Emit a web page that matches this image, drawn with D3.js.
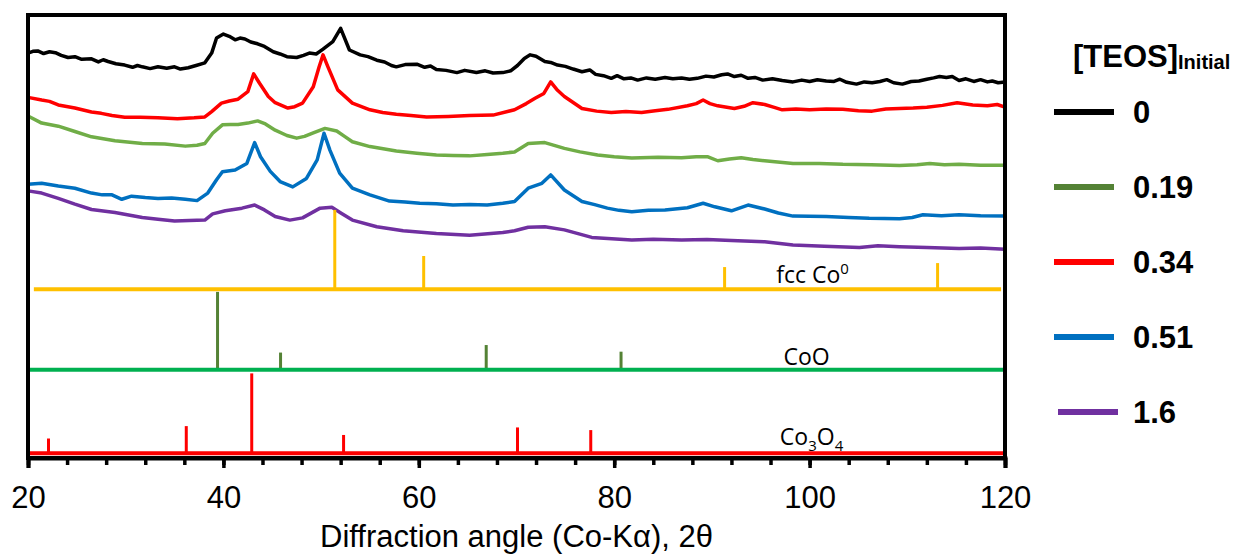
<!DOCTYPE html>
<html>
<head>
<meta charset="utf-8">
<script src="https://cdn.jsdelivr.net/npm/d3@7"></script>
<style>
  html, body { margin: 0; padding: 0; background: #fff; }
  svg { display: block; }
</style>
</head>
<body>
<div id="chart"></div>
<script>
// XRD patterns, [2theta, intensity a.u. (offset stacked)]
const teos0 = [[20,91.4],[20.5,91.8],[21,91.9],[21.6,91.3],[22.2,91.7],[22.8,91.5],[23.4,90.9],[24.1,90.4],[24.8,90.6],[25.5,90.0],[26.5,90.1],[27.2,89.4],[27.7,89.9],[28.2,89.5],[29,89.0],[29.9,88.7],[30.7,88.2],[31.2,88.6],[31.7,88.3],[32.5,87.9],[33.3,88.3],[34.2,88.0],[35.0,88.3],[35.6,87.8],[36.4,88.1],[37.2,88.6],[38.1,89.2],[38.8,91.4],[39.3,94.8],[40.0,95.7],[40.6,95.2],[41.2,94.4],[41.7,94.8],[42.2,94.6],[42.8,93.9],[43.5,93.5],[44.2,92.9],[45.1,91.7],[45.8,91.2],[46.5,90.6],[47.5,90.4],[48.2,90.9],[48.8,91.4],[49.5,91.2],[50.2,92.3],[51.2,94.0],[52.0,97.0],[52.9,92.1],[54.0,91.0],[54.8,90.6],[55.7,89.8],[56.5,89.4],[57.2,88.6],[57.7,88.3],[58.6,88.8],[59.8,88.9],[60.6,88.2],[61.2,88.5],[61.8,87.7],[62.8,87.5],[63.9,87.0],[64.7,87.5],[65.9,87.0],[66.8,87.4],[67.6,86.9],[68.6,87.0],[69.4,87.4],[70.1,88.6],[70.8,90.2],[71.4,91.0],[72.0,90.7],[72.9,89.5],[73.5,89.3],[74.2,88.7],[75,88.4],[75.8,87.8],[76.7,87.2],[77.5,87.6],[78.1,86.6],[78.9,86.3],[79.7,85.7],[80.3,86.3],[81,85.6],[81.7,85.8],[82.4,85.3],[83.3,85.8],[84.2,85.5],[85.2,85.9],[86,85.6],[86.9,85.8],[87.7,85.5],[88.5,85.7],[89.4,86.2],[90.2,86.0],[91.0,86.5],[91.6,86.7],[92.3,86.1],[93,86.4],[93.7,85.7],[94.4,85.9],[95.2,85.3],[96.2,85.6],[97.2,85.2],[98.3,84.9],[99.2,85.3],[100,85.0],[100.8,85.4],[101.7,85.1],[102.5,85.0],[103.1,85.5],[103.8,84.8],[104.8,84.4],[105.6,84.9],[106.4,84.7],[107.2,85.0],[107.9,85.4],[108.6,84.7],[109.5,84.4],[110.4,85.0],[111.2,85.1],[112,85.5],[112.7,85.8],[113.3,86.1],[114,85.9],[114.6,86.1],[115.3,85.2],[116,85.6],[116.8,85.0],[117.5,85.4],[118.2,84.9],[118.7,85.1],[119.3,84.7],[120,84.9]];

const teos034 = [[20,81.4],[21.4,80.8],[22.2,80.5],[23.1,79.7],[24.8,79.0],[26.5,78.1],[27.5,77.8],[28.6,77.3],[29.9,76.9],[31.5,76.9],[33.3,76.8],[35.3,76.6],[37,76.8],[38.1,77.0],[38.8,78.2],[39.8,80.1],[40.6,80.6],[41.5,81.0],[42.5,82.7],[43.1,86.7],[43.7,84.6],[44.6,81.6],[45.3,80.2],[46.6,79.0],[47.3,79.3],[48.1,80.1],[49.2,83.8],[49.8,88.3],[50.2,91.0],[50.7,88.3],[51.7,83.1],[53.2,80.1],[55.0,78.6],[56.3,78.0],[57.7,77.6],[59.2,77.3],[60.8,77.0],[63,77.1],[65.2,77.3],[67.6,77.4],[69.8,78.6],[71.0,80.0],[71.9,81.2],[72.8,82.3],[73.5,84.9],[74.2,83.0],[74.9,81.6],[76.7,78.9],[78.2,78.3],[79.7,78.0],[81.2,78.2],[82.8,78.0],[84.2,78.4],[85.5,78.7],[87.5,79.5],[88.4,80.0],[89.1,80.8],[89.8,80.0],[90.6,79.5],[92.3,78.9],[93.3,79.4],[94.2,80.2],[95.4,79.8],[96.3,79.2],[97.2,78.6],[98.6,78.8],[100.0,78.6],[101.7,78.8],[103.4,78.7],[105,78.4],[106.4,78.3],[107.8,78.8],[109.2,78.9],[110.6,79.0],[112.0,79.2],[113.6,79.6],[115.1,80.2],[116.7,79.7],[118.2,79.5],[119.2,79.8],[120,79.2]];

const teos019 = [[20,77.2],[21.4,75.6],[23.1,74.9],[24.8,73.7],[26.5,72.5],[28.9,71.6],[31.7,71.0],[34.0,70.9],[36.1,70.4],[37.3,70.6],[38.1,71.0],[38.9,73.3],[39.9,75.2],[40.7,75.3],[41.5,75.3],[42.5,75.6],[43.5,76.1],[44.3,75.4],[45.3,74.0],[46.5,72.8],[47.5,72.2],[48.3,72.6],[49.2,73.4],[50.4,74.4],[51.6,73.8],[52.4,72.6],[53.2,71.4],[55.0,70.3],[57.7,69.3],[59.8,68.8],[61.8,68.4],[63.5,68.3],[65.2,68.2],[67,68.5],[68.6,68.8],[69.8,69.1],[71.2,71.0],[72.9,71.2],[74.9,69.9],[76.5,69.1],[78.3,68.4],[80,68.0],[81.8,67.7],[84.5,67.9],[86.9,67.8],[88.4,68.0],[89.6,68.0],[90.6,67.1],[91.8,67.5],[93.0,67.8],[94.2,67.4],[95.4,67.1],[98.3,66.5],[101,66.5],[103.4,66.3],[106.3,66.2],[109.2,66.0],[111,66.2],[112.3,66.5],[113.8,66.2],[115.3,66.3],[117.5,66.1],[120,66.1]];

const teos051 = [[20,61.8],[21.4,62.0],[23.1,61.4],[24.8,60.9],[26.5,59.8],[27.6,59.4],[28.6,59.4],[29.6,58.4],[30.6,59.1],[32,58.8],[33.3,58.6],[34.7,58.7],[36.1,58.4],[37.3,58.1],[38.4,59.8],[39.3,62.8],[39.9,64.6],[41.2,65.0],[42.4,66.5],[43.2,71.2],[43.8,68.0],[44.8,64.7],[45.8,62.4],[47.1,61.2],[48.5,63.1],[49.6,67.3],[50.3,73.3],[50.9,69.5],[51.9,64.3],[53.2,60.9],[55.0,59.4],[57.0,58.0],[58.6,57.8],[60.1,57.5],[61.8,57.4],[63.5,57.1],[65.2,57.2],[67.0,57.1],[68.6,57.5],[69.8,57.9],[71.2,60.9],[72.6,62.0],[73.5,63.9],[74.9,60.5],[76.7,57.9],[78.0,57.2],[79.3,56.4],[80.5,55.9],[81.8,55.6],[83.5,55.9],[85.2,56.0],[87.5,56.5],[89.1,57.5],[90.3,56.7],[92.0,55.8],[93.7,57.1],[95.4,56.2],[96.8,55.3],[98.3,54.6],[101.7,54.5],[104,54.3],[106.1,54.1],[109.2,54.0],[110.5,54.3],[111.6,54.9],[113.5,54.7],[115.3,54.9],[117.5,54.7],[120,54.6]];

const teos16 = [[20,60.3],[21.4,59.8],[23.1,58.6],[24.8,57.3],[26.5,56.1],[28.9,55.4],[31.7,54.3],[33.3,53.9],[35.0,53.5],[36.5,53.6],[38.1,53.7],[38.9,55.1],[40.2,55.8],[41.9,56.4],[43.2,57.1],[44.2,56.0],[45.3,54.5],[46.8,53.7],[48.1,54.2],[49.9,56.4],[51.1,56.6],[52.1,55.2],[53.2,53.7],[55.7,52.2],[58.4,51.3],[61.8,50.7],[65.2,50.3],[68.6,50.9],[69.8,51.3],[71.2,52.1],[72.9,52.2],[74.9,51.5],[77.7,49.8],[81.8,49.2],[84,49.4],[86.9,49.2],[89.5,49.3],[92.0,49.1],[95.4,48.8],[98.3,48.1],[101.5,47.8],[105.1,47.5],[107,47.9],[109.2,47.7],[112,47.5],[115.3,47.3],[117.5,47.4],[120,47.1]];

// reference stick patterns: [2theta, top]
const fccPeaks = [[51.4,56.0],[60.5,45.6],[91.3,43.1],[113.1,44.0]];
const cooPeaks = [[39.4,37.5],[45.85,23.8],[66.9,25.5],[80.7,24.0]];
const co3o4Peaks = [[22.1,4.4],[36.2,7.2],[42.9,19.1],[52.3,5.2],[70.1,6.9],[77.6,6.3]];
const fccBase = 38.1, cooBase = 19.9, co3o4Base = 1.1;

const xTicksMajor = [20, 40, 60, 80, 100, 120];
const legendLabels = ["0", "0.19", "0.34", "0.51", "1.6"];
const legendColors = ["#000000", "#548235", "#FF0000", "#0070C0", "#7030A0"];

const W = 1239, H = 556;
const plot = {left: 28, right: 1005, top: 15, bottom: 458};

const svg = d3.select("#chart").append("svg")
  .attr("width", W).attr("height", H)
  .style("font-family", "'Liberation Sans', Arial, sans-serif");

const x = d3.scaleLinear().domain([20, 120]).range([plot.left, plot.right]);
const y = d3.scaleLinear().domain([0, 100]).range([plot.bottom, plot.top]);

const line = d3.line().x(d => x(d[0])).y(d => y(d[1]));

// curves
const curves = [
  {data: teos0, color: "#000000"},
  {data: teos034, color: "#FF0000"},
  {data: teos019, color: "#70AD47"},
  {data: teos051, color: "#0070C0"},
  {data: teos16, color: "#7030A0"}
];
svg.append("g").selectAll("path")
  .data(curves)
  .enter()
  .append("path")
  .attr("d", d => line(d.data))
  .attr("fill", "none")
  .attr("stroke", d => d.color)
  .attr("stroke-width", 3.5)
  .attr("stroke-linejoin", "round");

// reference patterns
const refFont = "'Open Sans', 'Noto Sans', sans-serif";
function sticks(peaks, base, color) {
  svg.append("g").selectAll("line")
    .data(peaks)
    .enter()
    .append("line")
    .attr("x1", d => x(d[0])).attr("x2", d => x(d[0]))
    .attr("y1", y(base)).attr("y2", d => y(d[1]))
    .attr("stroke", color)
    .attr("stroke-width", 3);
}
function baseline(base, from, to, color) {
  svg.append("line")
    .attr("x1", x(from)).attr("x2", x(to))
    .attr("y1", y(base)).attr("y2", y(base))
    .attr("stroke", color).attr("stroke-width", 4);
}

// labels first so the baselines sit on top of them
const lab = svg.append("g").style("font-family", refFont).style("font-size", "23px").attr("fill", "#000");
const t1 = lab.append("text").attr("x", x(100.3)).attr("y", y(fccBase) - 6).attr("text-anchor", "middle");
t1.append("tspan").text("fcc Co");
t1.append("tspan").text("0").attr("font-size", "15px").attr("dy", -9);
lab.append("text").attr("x", x(99.7)).attr("y", y(cooBase) - 5).attr("text-anchor", "middle").text("CoO");
const t3 = lab.append("text").attr("x", x(100.2)).attr("y", y(co3o4Base) - 8).attr("text-anchor", "middle");
t3.append("tspan").text("Co");
t3.append("tspan").text("3").attr("font-size", "15px").attr("dy", 6);
t3.append("tspan").text("O").attr("dy", -6);
t3.append("tspan").text("4").attr("font-size", "15px").attr("dy", 6);

sticks(fccPeaks, fccBase, "#FFC000");
baseline(fccBase, 20.6, 119.6, "#FFC000");
sticks(cooPeaks, cooBase, "#548235");
baseline(cooBase, 20, 120, "#00B050");
sticks(co3o4Peaks, co3o4Base, "#FF0000");
baseline(co3o4Base, 20, 120, "#FF0000");

// frame
svg.append("rect")
  .attr("x", plot.left).attr("y", plot.top)
  .attr("width", plot.right - plot.left).attr("height", plot.bottom - plot.top)
  .attr("fill", "none").attr("stroke", "#000").attr("stroke-width", 4);

// x axis
const minorAxis = svg.append("g").attr("transform", `translate(0,${plot.bottom})`)
  .call(d3.axisBottom(x).tickValues(d3.range(20, 121, 4)).tickSize(7).tickFormat(""));
minorAxis.select(".domain").remove();
minorAxis.selectAll("line").attr("stroke-width", 3.5);

const majorAxis = svg.append("g").attr("transform", `translate(0,${plot.bottom})`)
  .call(d3.axisBottom(x).tickValues(xTicksMajor).tickSize(10).tickFormat(d3.format("d")));
majorAxis.select(".domain").attr("stroke-width", 4);
majorAxis.selectAll("line").attr("stroke-width", 3.5);
majorAxis.selectAll("text")
  .attr("y", 50).attr("dy", null)
  .style("font-family", "'Liberation Sans', Arial, sans-serif")
  .style("font-size", "31px")
  .attr("fill", "#000");

svg.append("text")
  .attr("x", (plot.left + plot.right) / 2).attr("y", 547)
  .attr("text-anchor", "middle")
  .style("font-size", "31px")
  .text("Diffraction angle (Co-Kα), 2θ");

// legend
const leg = svg.append("g").style("font-weight", "bold");
const title = leg.append("text").attr("x", 1073).attr("y", 67).style("font-size", "31px");
title.append("tspan").text("[TEOS]");
title.append("tspan").text("Initial").style("font-size", "20px").attr("dy", 2);

const items = leg.selectAll("g.item")
  .data(legendLabels)
  .enter()
  .append("g")
  .attr("transform", (d, i) => `translate(0,${112 + i * 75})`);
items.append("line")
  .attr("x1", (d, i) => i === 4 ? 1058 : 1054)
  .attr("x2", (d, i) => i === 4 ? 1118 : 1114)
  .attr("stroke", (d, i) => legendColors[i])
  .attr("stroke-width", 6);
items.append("text")
  .attr("x", 1133).attr("y", 11)
  .style("font-size", "31px")
  .text(d => d);
</script>
</body>
</html>
